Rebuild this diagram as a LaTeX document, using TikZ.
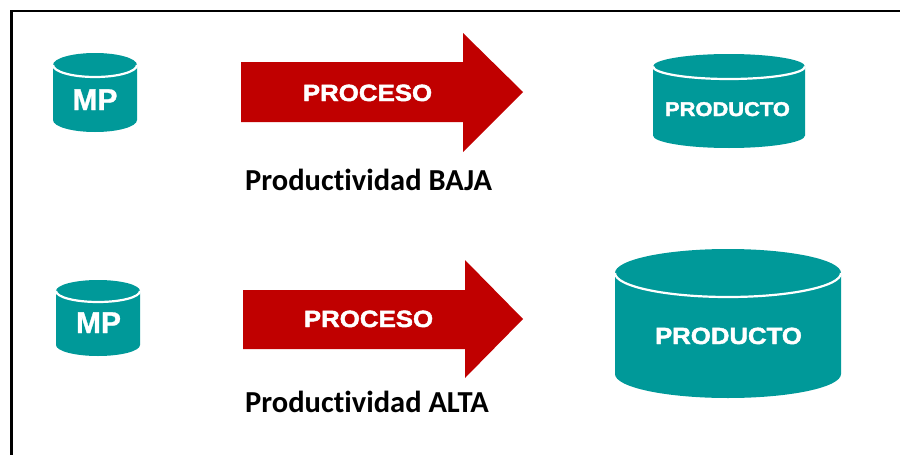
\documentclass[tikz,border=0pt]{standalone}
\usepackage{fontspec}
\setmainfont{Carlito}[Ligatures=NoCommon]
\newfontfamily\arialb{Liberation Sans}[BoldFeatures={FakeBold=1}]
\newfontfamily\blk{Liberation Sans}[FakeStretch=1.1,BoldFeatures={FakeBold=2}]
\definecolor{tealc}{RGB}{0,153,153}
\definecolor{redc}{RGB}{192,0,0}
\newcommand{\drawcyl}[5]{% cx, top-center y, bottom-center y, rx, ry
  \fill[tealc] (#1-#4,#2) -- (#1-#4,#3) arc[start angle=180,end angle=360,x radius=#4pt,y radius=#5pt]
     -- (#1+#4,#2) arc[start angle=0,end angle=180,x radius=#4pt,y radius=#5pt] -- cycle;
  \draw[white,line width=2.2pt] (#1-#4,#2) arc[start angle=180,end angle=360,x radius=#4pt,y radius=#5pt];
}
\tikzset{
  cyltext/.style={text=white,inner sep=0pt,anchor=base},
  proctext/.style={text=white,inner sep=0pt,anchor=base,font=\blk\bfseries\fontsize{23.5}{28}\selectfont},
  label/.style={text=black,inner sep=0pt,anchor=base west,font=\bfseries\fontsize{30.5}{36}\selectfont},
  redarrow/.style={fill=redc}
}
\begin{document}
\begin{tikzpicture}[x=1pt,y=-1pt]
\useasboundingbox (0,0) rectangle (900,455);
% frame
\draw[line width=2.5pt] (11.5,470) -- (11.5,11) -- (920,11);
% cylinders
\drawcyl{95}{65}{120}{42}{12}
\drawcyl{98}{291}{345}{42}{11}
\drawcyl{729}{66.5}{135.5}{76}{12.5}
\drawcyl{728}{273}{374}{113}{24}
% arrows
\fill[redarrow] (241,62) -- (463,62) -- (463,33) -- (523,92) -- (463,152) -- (463,122) -- (241,122) -- cycle;
\fill[redarrow] (243,290) -- (465,290) -- (465,260) -- (523,319) -- (465,378) -- (465,349) -- (243,349) -- cycle;
% texts
\node[cyltext,font=\arialb\bfseries\fontsize{30}{36}\selectfont] (mp1) at (95,110) {MP};
\node[cyltext,font=\arialb\bfseries\fontsize{30}{36}\selectfont] (mp2) at (98.5,333) {MP};
\node[cyltext,font=\blk\bfseries\fontsize{19.9}{24}\selectfont] (prod1) at (727.5,116) {PRODUCTO};
\node[cyltext,font=\blk\bfseries\fontsize{23.4}{28}\selectfont] (prod2) at (728.5,344) {PRODUCTO};
\node[proctext] (proc1) at (367.5,101) {PROCESO};
\node[proctext] (proc2) at (368.5,327) {PROCESO};
\node[label] (baja) at (245,190) {Productividad BAJA};
\node[label] (alta) at (245,412) {Productividad ALTA};
\end{tikzpicture}
\end{document}
